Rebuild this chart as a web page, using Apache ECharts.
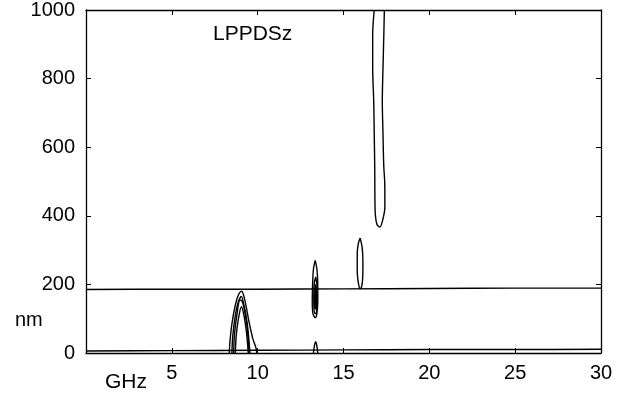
<!DOCTYPE html>
<html>
<head>
<meta charset="utf-8">
<script src="https://cdn.jsdelivr.net/npm/echarts@6/dist/echarts.min.js"></script>
<style>
html,body{margin:0;padding:0;background:#fff;}
#chart{width:637px;height:399px;}
</style>
</head>
<body>
<div id="chart"></div>
<script>
// Axis ticks
const xTicks = [0, 5, 10, 15, 20, 25, 30];
const yTicks = [0, 200, 400, 600, 800, 1000];

// Contour lines: [GHz, nm]
const lineHoriz = [[0,185],[5,186],[10,186],[15,187],[20,188],[25,189],[30,189]];
const lineBase = [[0,6],[5,7],[10,8],[15,9],[20,10],[25,10],[30,11]];
const arch9a = [[8.35,0],[8.38,30],[8.5,85],[8.7,140],[8.9,172],[9.07,180],[9.2,165],[9.35,130],[9.5,90],[9.7,45],[9.9,15],[9.95,0]];
const arch9b = [[8.5,0],[8.55,50],[8.7,110],[8.88,150],[9.05,165],[9.2,140],[9.35,100],[9.45,60],[9.55,0]];
const arch9c = [[8.7,0],[8.75,50],[8.88,100],[9.05,135],[9.2,110],[9.35,60],[9.45,0]];
const arch9d = [[8.6,0],[8.65,55],[8.8,115],[8.97,155],[9.1,150],[9.25,120],[9.4,70],[9.5,0]];
const loop13a = [[13.35,270],[13.45,245],[13.5,200],[13.5,150],[13.45,115],[13.35,103],[13.22,115],[13.18,150],[13.2,200],[13.25,245],[13.35,270]];
const loop13b = [[13.38,222],[13.47,190],[13.48,150],[13.42,118],[13.35,115],[13.28,130],[13.27,170],[13.3,205],[13.38,222]];
const loop13c = [[13.38,200],[13.44,170],[13.43,140],[13.37,128],[13.32,145],[13.33,180],[13.38,200]];
const loop13d = [[13.38,185],[13.41,165],[13.4,145],[13.37,138],[13.35,150],[13.35,172],[13.38,185]];
const bump13 = [[13.25,0],[13.3,20],[13.38,33],[13.45,20],[13.5,0]];
const loop16 = [[15.97,335],[16.08,310],[16.13,270],[16.12,220],[16.05,192],[15.97,188],[15.88,200],[15.8,240],[15.8,290],[15.87,320],[15.97,335]];
const loop17 = [[16.79,1000],[16.70,930],[16.70,830],[16.76,735],[16.79,640],[16.82,540],[16.83,445],[16.86,400],[16.95,375],[17.12,367],[17.28,387],[17.41,425],[17.41,445],[17.40,500],[17.35,541],[17.32,590],[17.30,640],[17.26,735],[17.30,830],[17.35,929],[17.38,1000]];

const contours = [lineHoriz, lineBase, arch9a, arch9b, arch9c, arch9d, loop13a, loop13b, loop13c, loop13d, bump13, loop16, loop17];

const FONT = 'Liberation Sans, Arial, Helvetica, sans-serif';
const chart = echarts.init(document.getElementById('chart'), null, {renderer:'canvas'});

function xAx(pos, labels) {
  return {
    type:'value', position:pos, min:xTicks[0], max:xTicks[xTicks.length-1], interval:xTicks[1]-xTicks[0],
    axisLine:{show:true, onZero:false, lineStyle:{color:'#000', width:1.3}},
    axisTick:{show:true, inside:true, length:5, lineStyle:{color:'#000', width:1}},
    axisLabel:{show:labels, color:'#000', fontSize:20, fontFamily:FONT, margin:10,
      formatter: v => (v === 0 ? '' : String(v))},
    splitLine:{show:false}
  };
}
function yAx(pos, labels) {
  return {
    type:'value', position:pos, min:yTicks[0], max:yTicks[yTicks.length-1], interval:yTicks[1]-yTicks[0],
    axisLine:{show:true, onZero:false, lineStyle:{color:'#000', width:1.3}},
    axisTick:{show:true, inside:true, length:5, lineStyle:{color:'#000', width:1}},
    axisLabel:{show:labels, color:'#000', fontSize:20, fontFamily:FONT, margin:11,
      formatter: v => String(v)},
    splitLine:{show:false}
  };
}

const option = {
  backgroundColor:'#fff',
  animation:false,
  grid:{left:86, right:36, top:8, bottom:46, containLabel:false},
  xAxis:[xAx('bottom', true), xAx('top', false)],
  yAxis:[yAx('left', true), yAx('right', false)],
  series: contours.map(d => ({
    type:'line', xAxisIndex:0, yAxisIndex:0, data:d, showSymbol:false, symbol:'none',
    smooth:0.3, clip:true, silent:true,
    lineStyle:{color:'#000', width:1.4}
  })),
  graphic:[
    {type:'text', left:213, top:24, style:{text:'LPPDSz', fill:'#000', font:'21px ' + FONT}},
    {type:'text', left:15, top:310, style:{text:'nm', fill:'#000', font:'20px ' + FONT}},
    {type:'text', left:105, top:372, style:{text:'GHz', fill:'#000', font:'21px ' + FONT}}
  ]
};
chart.setOption(option);
</script>
</body>
</html>
